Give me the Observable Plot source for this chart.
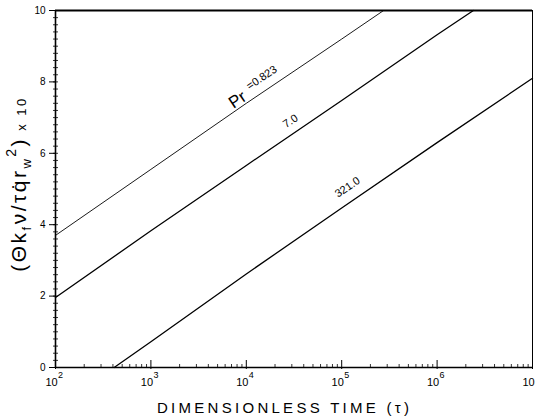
<!DOCTYPE html>
<html><head><meta charset="utf-8">
<script src="https://cdn.jsdelivr.net/npm/d3@7"></script>
<script src="https://cdn.jsdelivr.net/npm/@observablehq/plot@0.6"></script>
<style>body{margin:0;background:#fff}</style>
</head><body><div id="chart"></div>
<script>
// Data
const tauPr0823 = [1e2, 1e3, 1e4, 1e5, 2.75e5];
const valPr0823 = [3.70, 5.55, 7.40, 9.20, 10];
const tauPr7 = [1e2, 1e3, 1e4, 1e5, 1e6, 2.4e6];
const valPr7 = [1.96, 3.83, 5.66, 7.48, 9.32, 10];
const tauPr321 = [412, 1e3, 1e4, 1e5, 1e6, 1e7];
const valPr321 = [0, 0.72, 2.62, 4.47, 6.30, 8.10];

const curveLabels = ["=0.823", "7.0", "321.0"];
const curveLabelTau = [1.45e4, 2.9e4, 1.15e5];
const curveLabelVal = [8.12, 6.9, 5.05];

const xDecades = [1e2, 1e3, 1e4, 1e5, 1e6, 1e7];
const xExponents = ["2", "3", "4", "5", "6", ""];
const yMajor = [0, 2, 4, 6, 8, 10];

const xMinor = xDecades.slice(0, -1).flatMap(d => [2,3,4,5,6,7,8,9].map(k => d * k));
const yMinor = d3.range(0, 10.0001, 0.2);

const rows = (tau, val) => tau.map((t, i) => ({tau: t, v: val[i]}));
const labelRows = curveLabels.map((t, i) => ({t, tau: curveLabelTau[i], v: curveLabelVal[i]}));

const W = 541, H = 418, mL = 55, mT = 10, mR = 9, mB = 51;
const pw = W - mL - mR, ph = H - mT - mB;

const svg = Plot.plot({
  width: W, height: H,
  marginLeft: mL, marginTop: mT, marginRight: mR, marginBottom: mB,
  style: {fontFamily: "'Liberation Sans', Arial, sans-serif", fontSize: "10px", background: "#fff", color: "#000"},
  x: {type: "log", domain: [1e2, 1e7], axis: null},
  y: {domain: [0, 10], axis: null},
  marks: [
    Plot.axisY({ticks: yMajor, tickSize: 6, tickPadding: 4, fontSize: 10, label: null}),
    Plot.tickY(yMinor, {y: d => d, insetRight: pw - 3, insetLeft: -2, stroke: "black", strokeWidth: 0.8}),
    Plot.tickX(xMinor, {x: d => d, insetTop: ph - 3, stroke: "black", strokeWidth: 0.8}),
    Plot.tickX(xDecades, {x: d => d, insetTop: ph - 7, insetBottom: -2, stroke: "black", strokeWidth: 1}),
    Plot.text(xDecades, {x: d => d, frameAnchor: "bottom", text: () => "10", dy: 18, dx: -4, fontSize: 11}),
    Plot.text(xDecades, {x: d => d, frameAnchor: "bottom", text: (d, i) => xExponents[i], dy: 10, dx: 5, fontSize: 9}),
    Plot.line(rows(tauPr0823, valPr0823), {x: "tau", y: "v", stroke: "black", strokeWidth: 0.9}),
    Plot.line(rows(tauPr7, valPr7), {x: "tau", y: "v", stroke: "black", strokeWidth: 1.3}),
    Plot.line(rows(tauPr321, valPr321), {x: "tau", y: "v", stroke: "black", strokeWidth: 1.3}),
    Plot.text([{t: "Pr", tau: 8.1e3, v: 7.5}], {x: "tau", y: "v", text: "t", rotate: -34, fontSize: 17}),
    Plot.text(labelRows, {x: "tau", y: "v", text: "t", rotate: -34, fontSize: 11}),
    Plot.ruleX([1e2], {stroke: "black", strokeWidth: 1.6}),
    Plot.ruleX([1e7], {stroke: "black", strokeWidth: 1}),
    Plot.ruleY([0], {stroke: "black", strokeWidth: 1.6}),
    Plot.ruleY([10], {stroke: "black", strokeWidth: 2})
  ]
});

const s = d3.select(svg);
// x-axis title
s.append("text")
  .attr("x", 283).attr("y", 413)
  .attr("text-anchor", "middle")
  .attr("font-size", 15)
  .attr("textLength", 252).attr("lengthAdjust", "spacing")
  .text("DIMENSIONLESS TIME (τ)");

// y-axis title with subscripts/superscripts
const yt = s.append("text")
  .attr("transform", "translate(26,184) rotate(-90)")
  .attr("text-anchor", "middle")
  .attr("font-size", 21)
  .attr("letter-spacing", 2.5);
yt.append("tspan").text("(Θk");
yt.append("tspan").attr("font-size", 13).attr("dy", 5).text("f");
yt.append("tspan").attr("dy", -5).text("ν/τq̇r");
yt.append("tspan").attr("font-size", 13).attr("dy", 5).text("w");
yt.append("tspan").attr("font-size", 14).attr("dy", -15).text("2");
yt.append("tspan").attr("dy", 10).text(")");
yt.append("tspan").attr("font-size", 13).text(" x 10");

document.getElementById("chart").appendChild(svg);
</script>
</body></html>
